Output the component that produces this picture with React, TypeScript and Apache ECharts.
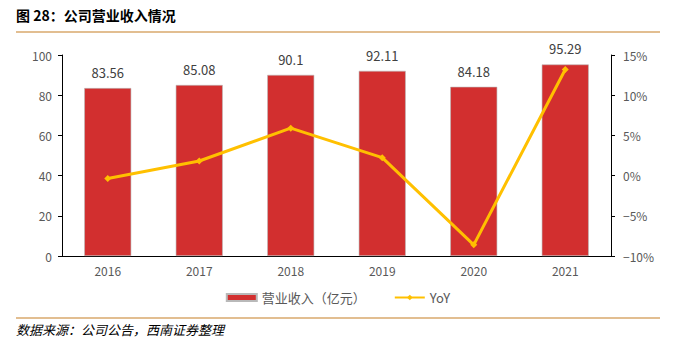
import React, { useEffect, useRef } from "react";
import * as echarts from "echarts";

const years = ["2016", "2017", "2018", "2019", "2020", "2021"];
const revenue = [83.56, 85.08, 90.1, 92.11, 84.18, 95.29];
const yoy = [-0.35, 1.82, 5.9, 2.23, -8.61, 13.2];
const revenueLabels = ["83.56", "85.08", "90.1", "92.11", "84.18", "95.29"];

const CJK = '"Noto Sans CJK SC", "Noto Sans", sans-serif';

export default function App() {
  const ref = useRef<HTMLDivElement>(null);
  useEffect(() => {
    document.body.style.margin = "0";
    if (!ref.current) return;
    const chart = echarts.init(ref.current, undefined, { renderer: "svg" });
    chart.setOption({
      animation: false,
      backgroundColor: "#ffffff",
      textStyle: { fontFamily: CJK },
      graphic: [
        {
          type: "text",
          left: 16,
          top: 8,
          style: {
            text: "图 28：公司营业收入情况",
            font: `bold 14px ${CJK}`,
            fill: "#000000",
          },
        },
        {
          type: "line",
          shape: { x1: 16, y1: 32, x2: 660, y2: 32 },
          style: { stroke: "#d9a86c", lineWidth: 1.5 },
        },
        {
          type: "line",
          shape: { x1: 16, y1: 318, x2: 660, y2: 318 },
          style: { stroke: "#d9a86c", lineWidth: 1.5 },
        },
        {
          type: "text",
          left: 16,
          top: 323,
          style: {
            text: "数据来源：公司公告，西南证券整理",
            font: `italic 13px ${CJK}`,
            fill: "#000000",
          },
        },
      ],
      legend: {
        top: 286,
        left: "center",
        itemGap: 28,
        itemWidth: 30,
        itemHeight: 7,
        textStyle: { color: "#595959", fontSize: 13, fontFamily: CJK },
        data: [
          { name: "营业收入（亿元）", icon: "rect" },
          { name: "YoY" },
        ],
      },
      grid: { left: 62, right: 65, top: 55, bottom: 85 },
      xAxis: {
        type: "category",
        data: years,
        axisLine: { lineStyle: { color: "#000000", width: 1 } },
        axisTick: { show: false },
        axisLabel: { color: "#595959", fontSize: 12, margin: 8 },
      },
      yAxis: [
        {
          type: "value",
          min: 0,
          max: 100,
          interval: 20,
          axisLine: { show: true, lineStyle: { color: "#000000" } },
          axisTick: { show: true, length: 4, lineStyle: { color: "#000000" } },
          splitLine: { show: false },
          axisLabel: { color: "#595959", fontSize: 12, margin: 10 },
        },
        {
          type: "value",
          min: -10,
          max: 15,
          interval: 5,
          position: "right",
          axisLine: { show: true, lineStyle: { color: "#000000" } },
          axisTick: { show: true, length: 4, lineStyle: { color: "#000000" } },
          splitLine: { show: false },
          axisLabel: {
            color: "#595959",
            fontSize: 12,
            margin: 12,
            formatter: (v: number) => (v < 0 ? "−" + Math.abs(v) : String(v)) + "%",
          },
        },
      ],
      series: [
        {
          name: "营业收入（亿元）",
          type: "bar",
          data: revenue,
          barWidth: 47,
          itemStyle: { color: "#d22f2f", borderColor: "#b9b9b9", borderWidth: 0.6 },
          label: {
            show: true,
            position: "top",
            distance: 9,
            color: "#404040",
            fontSize: 13,
            formatter: (p: any) => revenueLabels[p.dataIndex],
          },
        },
        {
          name: "YoY",
          type: "line",
          yAxisIndex: 1,
          data: yoy,
          symbol: "diamond",
          symbolSize: 7,
          lineStyle: { color: "#ffc000", width: 3 },
          itemStyle: { color: "#ffc000" },
        },
      ],
    });
    return () => chart.dispose();
  }, []);
  return <div ref={ref} style={{ width: 676, height: 341 }} />;
}
